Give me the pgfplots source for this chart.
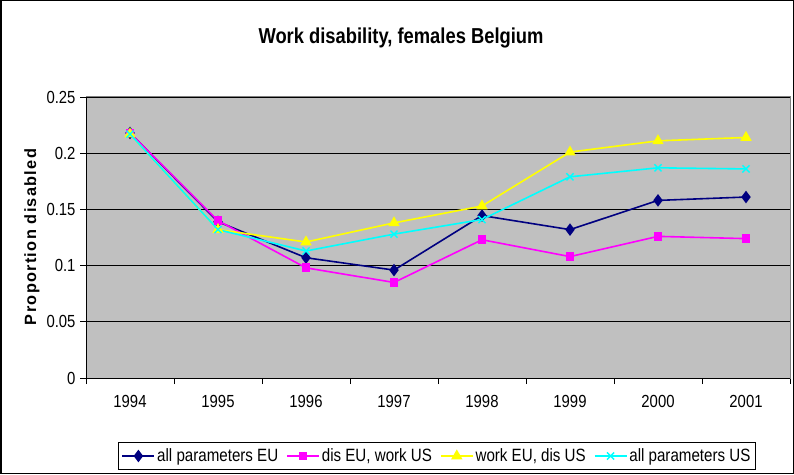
\documentclass[border=0pt]{standalone}
\usepackage{fontspec}
\setmainfont{Liberation Sans}[FakeStretch=0.85]
\newfontfamily\ylabfont{Liberation Sans}[LetterSpace=8]
\usepackage{pgfplots}
\pgfplotsset{compat=1.18}
\definecolor{plotgray}{RGB}{192,192,192}
\definecolor{navyc}{RGB}{0,0,128}
\definecolor{magc}{RGB}{255,0,255}
\definecolor{yelc}{RGB}{255,255,0}
\definecolor{cyac}{RGB}{0,255,255}
\definecolor{bordergray}{RGB}{128,128,128}
\begin{document}
\begin{tikzpicture}[x=1pt,y=1pt]
\draw[black, line width=1.5pt] (0.75,0.75) rectangle (793.25,473.25);
\node[anchor=base, font=\fontsize{21.6}{24}\selectfont\bfseries] at (401,430) {Work disability, females Belgium};
\node[rotate=90, font=\fontsize{16.3}{19}\selectfont\ylabfont\bfseries] at (32,237) {Proportion disabled};
\begin{axis}[
  at={(86pt,96pt)}, anchor=south west,
  scale only axis, width=704pt, height=281pt,
  xmin=-0.5, xmax=7.5, ymin=0, ymax=0.25,
  xtick={0,1,2,3,4,5,6,7},
  xticklabels={1994,1995,1996,1997,1998,1999,2000,2001},
  major x tick style={draw=none},
  minor xtick={-0.5,0.5,1.5,2.5,3.5,4.5,5.5,6.5,7.5},
  minor x tick style={black, line width=0.8pt},
  minor tick length=6pt,
  ytick={0,0.05,0.1,0.15,0.2,0.25},
  yticklabels={0,0.05,0.1,0.15,0.2,0.25},
  major tick length=6pt,
  tick align=outside,
  xtick pos=bottom, ytick pos=left,
  y tick style={black, line width=0.8pt},
  ymajorgrids,
  major grid style={black, line width=0.8pt},
  axis background/.style={fill=plotgray},
  axis line style={bordergray, line width=1pt},
  tick label style={font=\fontsize{17.5}{20}\selectfont},
  xticklabel style={yshift=-8pt},
  yticklabel style={xshift=-1pt},
  legend columns=4,
  legend style={at={(0.4986,-0.2776)}, anchor=center, draw=black, fill=white,
    line width=0.8pt, font=\fontsize{17.8}{20}\selectfont, inner xsep=3pt, inner ysep=4pt,
    /tikz/every even column/.append style={column sep=6pt}},
  legend cell align=left,
  legend image code/.code={\draw[mark repeat=2,mark phase=2,#1] plot coordinates {(0pt,0pt)(16pt,0pt)(32pt,0pt)};},
]
\addplot[navyc, line width=1.6pt, mark=diamond*, mark size=5pt, mark options={fill=navyc, solid}] coordinates {
 (0,0.218) (1,0.139) (2,0.107) (3,0.096) (4,0.1445) (5,0.132) (6,0.158) (7,0.161)};
\addlegendentry{all parameters EU}
\addplot[magc, line width=1.6pt, mark=square*, mark size=3.6pt, mark options={fill=magc, solid}] coordinates {
 (0,0.218) (1,0.140) (2,0.098) (3,0.085) (4,0.123) (5,0.108) (6,0.126) (7,0.124)};
\addlegendentry{dis EU, work US}
\addplot[yelc, line width=1.6pt, mark=triangle*, mark size=5pt, mark options={fill=yelc, solid}] coordinates {
 (0,0.217) (1,0.132) (2,0.121) (3,0.138) (4,0.153) (5,0.201) (6,0.211) (7,0.214)};
\addlegendentry{work EU, dis US}
\addplot[cyac, line width=1.6pt, mark=x, mark size=5pt, mark options={solid, line width=1.4pt}] coordinates {
 (0,0.217) (1,0.132) (2,0.113) (3,0.128) (4,0.141) (5,0.179) (6,0.187) (7,0.186)};
\addlegendentry{all parameters US}
\draw[black, line width=1pt] (rel axis cs:0,0) -- (rel axis cs:1,0);
\draw[black, line width=1pt] (rel axis cs:0,0) -- (rel axis cs:0,1);
\end{axis}
\end{tikzpicture}
\end{document}
